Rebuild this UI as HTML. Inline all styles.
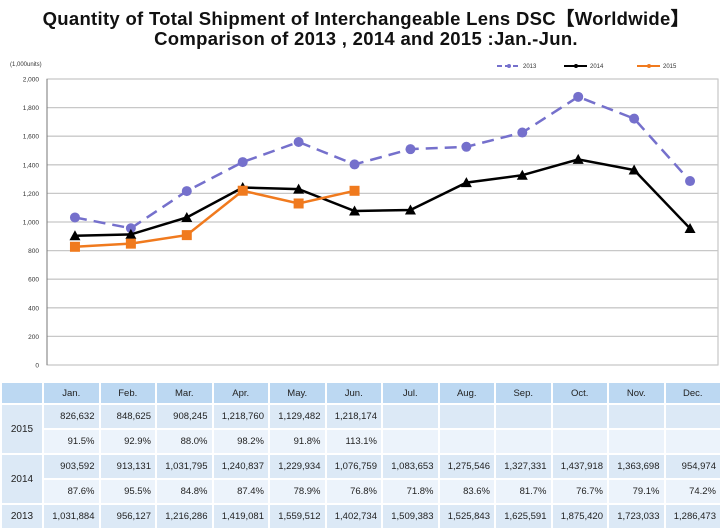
<!DOCTYPE html>
<html><head><meta charset="utf-8"><style>
body{margin:0;width:720px;height:528px;background:#fff;overflow:hidden;font-family:"Liberation Sans",Arial,sans-serif}
#t1,#t2{position:absolute;left:0;width:732px;text-align:center;font-weight:bold;font-size:18.5px;color:#111;white-space:nowrap;letter-spacing:0.3px}
#t1{top:5px}#t2{top:28px}
table{position:absolute;left:0;top:381px;border-collapse:collapse;table-layout:fixed;width:722px}
td{border:2px solid #fff;font-size:9.5px;color:#222;text-align:right;padding:0 4px;height:23px;background:#dce9f6}
td.h{background:#bcd8f2;text-align:center;height:20px}
td.y{text-align:center;font-size:10px}
tr.alt td{background:#ecf3fb}
</style></head><body>
<div id="t1">Quantity of Total Shipment of Interchangeable Lens DSC【Worldwide】</div>
<div id="t2">Comparison of 2013 , 2014 and 2015 :Jan.-Jun.</div>
<svg id="chart" width="720" height="380" style="position:absolute;left:0;top:0"></svg>
<table>
<colgroup><col style="width:42px"><col span="12"></colgroup>
<tr><td class="h"></td><td class="h">Jan.</td><td class="h">Feb.</td><td class="h">Mar.</td><td class="h">Apr.</td><td class="h">May.</td><td class="h">Jun.</td><td class="h">Jul.</td><td class="h">Aug.</td><td class="h">Sep.</td><td class="h">Oct.</td><td class="h">Nov.</td><td class="h">Dec.</td></tr>
<tr><td class="y" rowspan="2">2015</td><td>826,632</td><td>848,625</td><td>908,245</td><td>1,218,760</td><td>1,129,482</td><td>1,218,174</td><td></td><td></td><td></td><td></td><td></td><td></td></tr>
<tr class="alt"><td>91.5%</td><td>92.9%</td><td>88.0%</td><td>98.2%</td><td>91.8%</td><td>113.1%</td><td></td><td></td><td></td><td></td><td></td><td></td></tr>
<tr><td class="y" rowspan="2">2014</td><td>903,592</td><td>913,131</td><td>1,031,795</td><td>1,240,837</td><td>1,229,934</td><td>1,076,759</td><td>1,083,653</td><td>1,275,546</td><td>1,327,331</td><td>1,437,918</td><td>1,363,698</td><td>954,974</td></tr>
<tr class="alt"><td>87.6%</td><td>95.5%</td><td>84.8%</td><td>87.4%</td><td>78.9%</td><td>76.8%</td><td>71.8%</td><td>83.6%</td><td>81.7%</td><td>76.7%</td><td>79.1%</td><td>74.2%</td></tr>
<tr><td class="y">2013</td><td>1,031,884</td><td>956,127</td><td>1,216,286</td><td>1,419,081</td><td>1,559,512</td><td>1,402,734</td><td>1,509,383</td><td>1,525,843</td><td>1,625,591</td><td>1,875,420</td><td>1,723,033</td><td>1,286,473</td></tr>
</table>
<script>
const months=["Jan.","Feb.","Mar.","Apr.","May.","Jun.","Jul.","Aug.","Sep.","Oct.","Nov.","Dec."];
const s2013=[1031.884,956.127,1216.286,1419.081,1559.512,1402.734,1509.383,1525.843,1625.591,1875.420,1723.033,1286.473];
const s2014=[903.592,913.131,1031.795,1240.837,1229.934,1076.759,1083.653,1275.546,1327.331,1437.918,1363.698,954.974];
const s2015=[826.632,848.625,908.245,1218.760,1129.482,1218.174];
const yTicks=[0,200,400,600,800,1000,1200,1400,1600,1800,2000];
const yLabels=["0","200","400","600","800","1,000","1,200","1,400","1,600","1,800","2,000"];
const NS="http://www.w3.org/2000/svg",svg=document.getElementById('chart');
const L=47,R=718,T=79,B=365;
const x=i=>L+(R-L)/12*(i+0.5);
const y=v=>B-(B-T)*v/2000;
function el(t,a,p){const e=document.createElementNS(NS,t);for(const k in a)e.setAttribute(k,a[k]);(p||svg).appendChild(e);return e;}
const frame=el('rect',{x:L,y:T,width:R-L,height:B-T,fill:'none',stroke:'#bbb','stroke-width':1});


yTicks.forEach((v,i)=>{
  const g=el('line',{x1:L,x2:R,y1:y(v),y2:y(v),stroke:'#c8c8c8','stroke-width':1.3});
  
  
  const t=el('text',{x:39,y:y(v)+2.5,'text-anchor':'end','font-size':6.5,fill:'#333'});
  t.textContent=yLabels[i];
  
  
});
el('line',{x1:L,x2:L,y1:T,y2:B,stroke:'#777','stroke-width':1});
const u=el('text',{x:10,y:66,'font-size':6,fill:'#333'});u.textContent='(1,000units)';


function series(data,color,dash,marker,name){
  const pts=data.map((v,i)=>x(i)+','+y(v)).join(' ');
  const pl=el('polyline',{points:pts,fill:'none',stroke:color,'stroke-width':2.5,'stroke-dasharray':dash||''});
  
  
  data.forEach((v,i)=>{
    const cx=x(i),cy=y(v);let m;
    if(marker==='c')m=el('circle',{cx:cx,cy:cy,r:5,fill:color});
    else if(marker==='t')m=el('polygon',{points:`${cx},${cy-5.5} ${cx-5.5},${cy+4.5} ${cx+5.5},${cy+4.5}`,fill:color});
    else m=el('rect',{x:cx-5,y:cy-5,width:10,height:10,fill:color});
    
    
  });
}
series(s2013,'#7570cc','12,7','c','2013');
series(s2014,'#000','', 't','2014');
series(s2015,'#f07a1e','','s','2015');
[['2013','#7570cc','c',515,'5,3'],['2014','#000','t',582,''],['2015','#f07a1e','s',655,'']].forEach(d=>{
  const g=el('g',{});
  
  
  el('line',{x1:d[3]-18,x2:d[3]+5,y1:66,y2:66,stroke:d[1],'stroke-width':2,'stroke-dasharray':d[4]},g);
  el('circle',{cx:d[3]-6,cy:66,r:2,fill:d[1]},g);
  const t=el('text',{x:d[3]+8,y:68,'font-size':6,fill:'#333'},g);t.textContent=d[0];
});
</script>
</body></html>
